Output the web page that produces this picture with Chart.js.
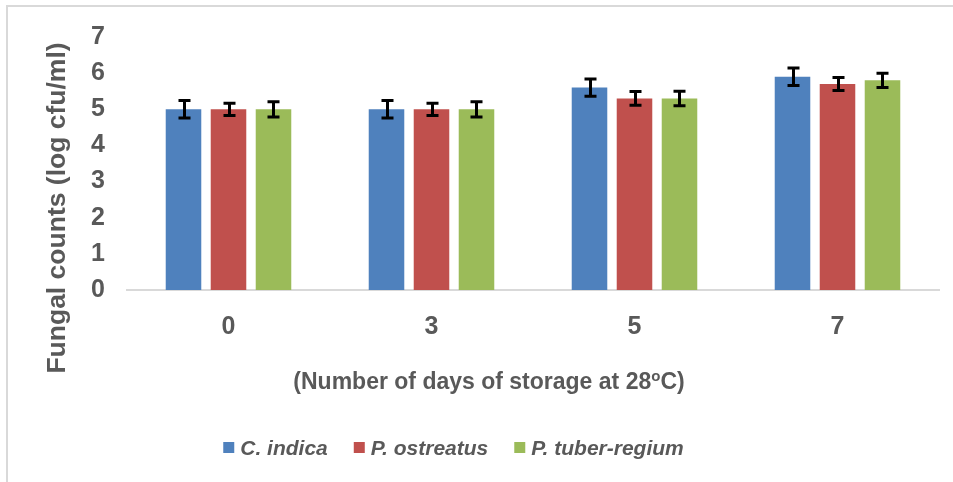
<!DOCTYPE html>
<html>
<head>
<meta charset="utf-8">
<script src="https://cdn.jsdelivr.net/npm/chart.js@4.4.1/dist/chart.umd.min.js"></script>
<style>
  html, body { margin: 0; padding: 0; background: #fff; }
  #wrap { width: 953px; height: 482px; }
</style>
</head>
<body>
<div id="wrap"><canvas id="chart" width="953" height="482"></canvas></div>
<script>
// data
const days = ['0', '3', '5', '7'];
const seriesNames = ['C. indica', 'P. ostreatus', 'P. tuber-regium'];
const cIndica      = [5.0, 5.0, 5.6, 5.9];
const pOstreatus   = [5.0, 5.0, 5.3, 5.7];
const pTuberRegium = [5.0, 5.0, 5.3, 5.8];
const cIndicaErr      = [0.24, 0.24, 0.24, 0.24];
const pOstreatusErr   = [0.17, 0.17, 0.19, 0.18];
const pTuberRegiumErr = [0.21, 0.21, 0.20, 0.20];
const yTicks = [0, 1, 2, 3, 4, 5, 6, 7];

const COLORS = ['#4F81BD', '#C0504D', '#9BBB59'];
const TEXT = '#595959';
const FONT = '"Liberation Sans", Arial, sans-serif';

// black I-shaped error bars on top of each bar
const errorBars = {
  id: 'errorBars',
  afterDatasetsDraw(chart) {
    const ctx = chart.ctx;
    const y = chart.scales.y;
    ctx.save();
    ctx.strokeStyle = '#000';
    ctx.lineWidth = 3;
    chart.data.datasets.forEach((ds, i) => {
      chart.getDatasetMeta(i).data.forEach((bar, j) => {
        const v = ds.data[j], e = ds.errors[j];
        const top = y.getPixelForValue(v + e);
        const bot = y.getPixelForValue(v - e);
        const x = Math.round(bar.x) + 0.5;
        ctx.beginPath();
        ctx.moveTo(x, top); ctx.lineTo(x, bot);
        ctx.moveTo(x - 6, top); ctx.lineTo(x + 6, top);
        ctx.moveTo(x - 6, bot); ctx.lineTo(x + 6, bot);
        ctx.stroke();
      });
    });
    ctx.restore();
  }
};

// frame, axis titles and the legend row
const decorations = {
  id: 'decorations',
  beforeDraw(chart) {
    const ctx = chart.ctx;
    ctx.save();
    ctx.fillStyle = '#fff';
    ctx.fillRect(0, 0, chart.width, chart.height);
    ctx.fillStyle = '#d9d9d9';
    ctx.fillRect(6, 5, chart.width - 6, 2);
    ctx.fillRect(6, 5, 2, chart.height - 5);
    ctx.restore();
  },
  afterDraw(chart) {
    const ctx = chart.ctx;
    ctx.save();
    ctx.fillStyle = TEXT;

    // y title
    ctx.font = 'bold 26.5px ' + FONT;
    ctx.textAlign = 'center';
    ctx.textBaseline = 'alphabetic';
    ctx.translate(65, 208);
    ctx.rotate(-Math.PI / 2);
    ctx.fillText('Fungal counts (log cfu/ml)', 0, 0);
    ctx.setTransform(1, 0, 0, 1, 0, 0);

    // x title with superscript o
    const main = '(Number of days of storage at 28', sup = 'o', tail = 'C)';
    ctx.font = 'bold 23px ' + FONT;
    const wMain = ctx.measureText(main).width, wTail = ctx.measureText(tail).width;
    ctx.font = 'bold 15px ' + FONT;
    const wSup = ctx.measureText(sup).width;
    let x = 489 - (wMain + wSup + wTail) / 2;
    const base = 389;
    ctx.textAlign = 'left';
    ctx.font = 'bold 23px ' + FONT;
    ctx.fillText(main, x, base); x += wMain;
    ctx.font = 'bold 15px ' + FONT;
    ctx.fillText(sup, x, base - 8); x += wSup;
    ctx.font = 'bold 23px ' + FONT;
    ctx.fillText(tail, x, base);

    // legend
    ctx.font = 'italic bold 21px ' + FONT;
    const box = 11, gapText = 6, gapItem = 26;
    const items = chart.data.datasets.map(ds => ({ label: ds.label, color: ds.backgroundColor, w: ctx.measureText(ds.label).width }));
    const total = items.reduce((s, it) => s + box + gapText + it.w, 0) + gapItem * (items.length - 1);
    let lx = 453.5 - total / 2;
    const ly = 455;
    items.forEach(it => {
      ctx.fillStyle = it.color;
      ctx.fillRect(lx, ly - 13, box, box);
      lx += box + gapText;
      ctx.fillStyle = TEXT;
      ctx.fillText(it.label, lx, ly);
      lx += it.w + gapItem;
    });
    ctx.restore();
  }
};

new Chart(document.getElementById('chart').getContext('2d'), {
  type: 'bar',
  data: {
    labels: days,
    datasets: [
      { label: seriesNames[0], data: cIndica, errors: cIndicaErr, backgroundColor: COLORS[0] },
      { label: seriesNames[1], data: pOstreatus, errors: pOstreatusErr, backgroundColor: COLORS[1] },
      { label: seriesNames[2], data: pTuberRegium, errors: pTuberRegiumErr, backgroundColor: COLORS[2] }
    ]
  },
  options: {
    responsive: false,
    animation: false,
    events: [],
    categoryPercentage: 0.665,
    barPercentage: 0.79,
    layout: { padding: { left: 87, right: 14, top: 34, bottom: 132 } },
    plugins: {
      legend: { display: false },
      tooltip: { enabled: false },
      title: { display: false }
    },
    scales: {
      x: {
        grid: { display: false, drawTicks: false },
        border: { display: true, color: '#d9d9d9', width: 2 },
        ticks: { color: TEXT, font: { family: FONT, size: 25, weight: 'bold' }, padding: 22 },
        afterFit: s => { s.height = 60; }
      },
      y: {
        min: 0,
        max: yTicks[yTicks.length - 1],
        afterBuildTicks: s => { s.ticks = yTicks.map(v => ({ value: v })); },
        grid: { display: false, drawTicks: false },
        border: { display: false },
        ticks: { color: TEXT, font: { family: FONT, size: 25, weight: 'bold' }, padding: 22 },
        afterFit: s => { s.width = 40; }
      }
    }
  },
  plugins: [errorBars, decorations]
});
</script>
</body>
</html>
